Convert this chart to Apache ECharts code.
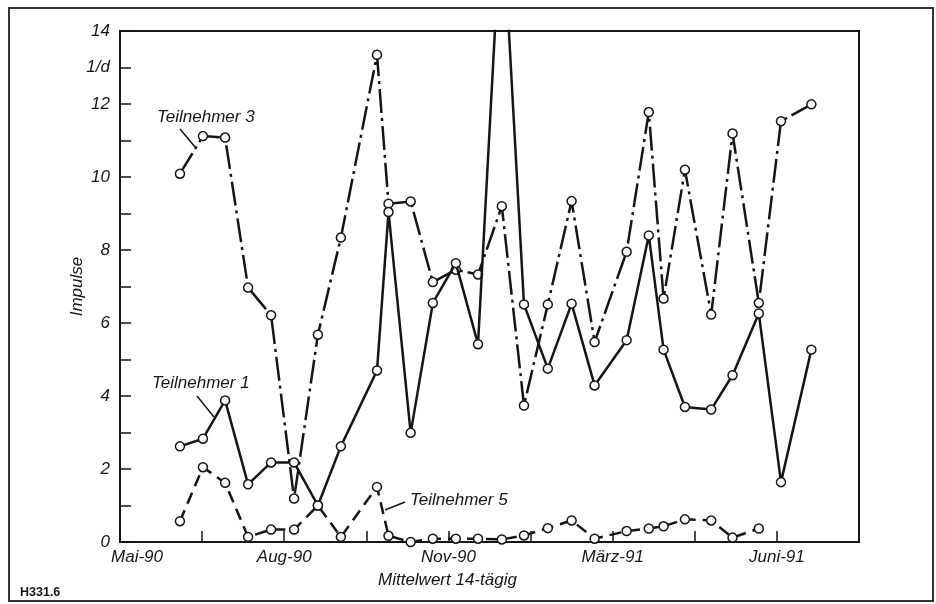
<!DOCTYPE html>
<html><head><meta charset="utf-8">
<script src="https://cdn.jsdelivr.net/npm/echarts@6/dist/echarts.min.js"></script>
<style>html,body{margin:0;padding:0;background:#fff}#c{width:936px;height:604px}</style>
</head><body><div id="c"></div>
<script>
// x positions in tick units (one tick step = the axis' minor step; labels every 2 steps)
const periods = [0.73,1.01,1.28,1.56,1.84,2.12,2.41,2.69,3.13,3.27,3.54,3.81,4.09,4.36,4.65,4.92,5.21,5.50,5.78,6.17,6.44,6.62,6.88,7.20,7.46,7.78,8.05,8.42];
const teilnehmer1 = [2.62,2.83,3.88,1.58,2.18,2.18,1.0,2.62,4.70,9.04,2.99,6.55,7.64,5.42,17.5,6.51,4.75,6.53,4.29,5.53,8.40,5.27,3.70,3.63,4.57,6.26,1.64,5.27];
const teilnehmer3 = [10.09,11.12,11.08,6.97,6.21,1.19,5.68,8.34,13.35,9.27,9.33,7.12,7.46,7.33,9.2,3.74,6.51,9.34,5.48,7.95,11.78,6.67,10.2,6.23,11.19,6.55,11.53,11.99];
const teilnehmer5 = [0.57,2.05,1.62,0.14,0.34,0.34,1.0,0.14,1.51,0.17,0.0,0.09,0.09,0.09,0.07,0.18,0.38,0.59,0.09,0.30,0.37,0.43,0.62,0.59,0.12,0.37];
const xTickLabels = {0:'Mai-90',2:'Aug-90',4:'Nov-90',6:'März-91',8:'Juni-91'};
const yTickLabels = {0:'0',2:'2',4:'4',6:'6',8:'8',10:'10',12:'12',13:'1/d',14:'14'};

const INK = '#151515';
const FONT = '"Liberation Sans", Arial, sans-serif';
const pairs = (vals) => vals.map((v, i) => [periods[i], v]);

const chart = echarts.init(document.getElementById('c'), null, {renderer: 'canvas'});
const baseSeries = {
  type: 'line', symbol: 'circle', symbolSize: 9, clip: true,
  itemStyle: {color: '#fff', borderColor: INK, borderWidth: 1.5},
  emphasis: {disabled: true}, animation: false
};
chart.setOption({
  backgroundColor: '#fff',
  animation: false,
  grid: {left: 120, top: 31, right: 77, bottom: 62, show: true, borderColor: INK, borderWidth: 2, containLabel: false, outerBoundsMode: 'none'},
  xAxis: {
    type: 'value', min: 0, max: 9, interval: 1,
    axisLine: {show: true, lineStyle: {color: INK, width: 2}},
    axisTick: {show: true, inside: true, length: 11, lineStyle: {color: INK, width: 1.5}},
    splitLine: {show: false},
    axisLabel: {
      margin: 7, color: INK, fontSize: 17, fontStyle: 'italic', fontFamily: FONT, showMaxLabel: false,
      formatter: v => { const s = xTickLabels[v]; if (!s) return ''; return v === 0 ? '{a|' + s + '}' : s; },
      rich: {a: {padding: [0, 0, 0, 34], fontSize: 17, fontStyle: 'italic', fontFamily: FONT, color: INK}}
    }
  },
  yAxis: {
    type: 'value', min: 0, max: 14, interval: 1,
    name: 'Impulse', nameLocation: 'middle', nameGap: 34, nameMoveOverlap: false,
    nameTextStyle: {color: INK, fontSize: 17, fontStyle: 'italic', fontFamily: FONT},
    axisLine: {show: true, lineStyle: {color: INK, width: 2}},
    axisTick: {show: true, inside: true, length: 11, lineStyle: {color: INK, width: 1.5}},
    splitLine: {show: false},
    axisLabel: {margin: 10, color: INK, fontSize: 17, fontStyle: 'italic', fontFamily: FONT,
      formatter: v => yTickLabels[v] || ''}
  },
  series: [
    Object.assign({}, baseSeries, {name: 'Teilnehmer 5', data: pairs(teilnehmer5), z: 3,
      lineStyle: {color: INK, width: 2.5, type: [12, 7]}}),
    Object.assign({}, baseSeries, {name: 'Teilnehmer 3', data: pairs(teilnehmer3), z: 4,
      lineStyle: {color: INK, width: 2.5, type: [24, 5, 3, 5]}}),
    Object.assign({}, baseSeries, {name: 'Teilnehmer 1', data: pairs(teilnehmer1), z: 5,
      lineStyle: {color: INK, width: 2.5, type: 'solid'}})
  ],
  graphic: [
    {type: 'rect', silent: true, shape: {x: 9, y: 8, width: 924, height: 593}, style: {fill: 'none', stroke: '#333', lineWidth: 2}},
    {type: 'text', x: 157, y: 117, style: {text: 'Teilnehmer 3', font: 'italic 17px ' + FONT, fill: INK, verticalAlign: 'middle'}},
    {type: 'polyline', shape: {points: [[180, 129], [195, 147]]}, style: {stroke: INK, lineWidth: 1.5}},
    {type: 'text', x: 152, y: 383, style: {text: 'Teilnehmer 1', font: 'italic 17px ' + FONT, fill: INK, verticalAlign: 'middle'}},
    {type: 'polyline', shape: {points: [[197, 396], [214, 417]]}, style: {stroke: INK, lineWidth: 1.5}},
    {type: 'text', x: 410, y: 500, style: {text: 'Teilnehmer 5', font: 'italic 17px ' + FONT, fill: INK, verticalAlign: 'middle'}},
    {type: 'polyline', shape: {points: [[405, 502], [385, 510]]}, style: {stroke: INK, lineWidth: 1.5}},
    {type: 'text', x: 378, y: 580, style: {text: 'Mittelwert 14-tägig', font: 'italic 17px ' + FONT, fill: INK, verticalAlign: 'middle'}},
    {type: 'text', x: 20, y: 593, style: {text: 'H331.6', font: 'bold 12.5px ' + FONT, fill: INK, verticalAlign: 'middle'}}
  ]
});
</script></body></html>
